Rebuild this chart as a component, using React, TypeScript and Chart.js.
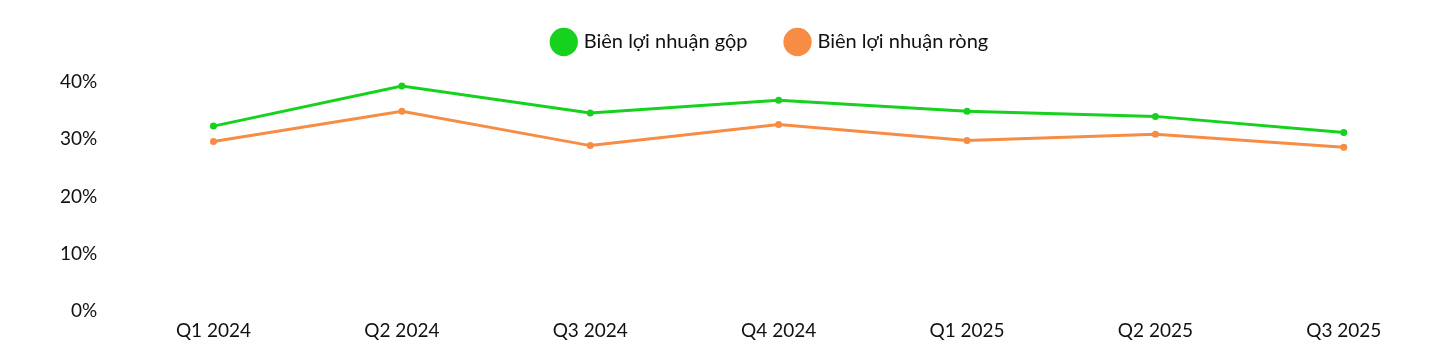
import React, { useEffect, useRef } from "react";
import { Chart, registerables } from "chart.js";

Chart.register(...registerables);

const categories = ["Q1 2024", "Q2 2024", "Q3 2024", "Q4 2024", "Q1 2025", "Q2 2025", "Q3 2025"];
const grossMargin = [32.3, 39.3, 34.6, 36.8, 34.9, 34.0, 31.2];
const netMargin = [29.6, 34.9, 28.9, 32.6, 29.8, 30.9, 28.6];
const seriesNames = ["Biên lợi nhuận gộp", "Biên lợi nhuận ròng"];
const yTicks = [0, 10, 20, 30, 40];

const GREEN = "#17d11f";
const ORANGE = "#f78c45";
const FONT = "Lato, 'Open Sans', sans-serif";

const legendShift = {
  id: "legendShift",
  afterLayout(chart: any) {
    const lg = chart.legend;
    if (!lg) return;
    const dx = 29;
    const dy = -20;
    lg.left += dx;
    lg.right += dx;
    lg.top += dy;
    lg.bottom += dy;
  },
};

export default function App() {
  const ref = useRef<HTMLCanvasElement | null>(null);
  useEffect(() => {
    if (!ref.current) return;
    const chart = new Chart(ref.current, {
      type: "line",
      data: {
        labels: categories,
        datasets: [
          {
            label: seriesNames[0],
            data: grossMargin,
            borderColor: GREEN,
            backgroundColor: GREEN,
            borderWidth: 3,
            pointRadius: 3.5,
            pointBackgroundColor: GREEN,
            pointBorderWidth: 0,
            tension: 0,
          },
          {
            label: seriesNames[1],
            data: netMargin,
            borderColor: ORANGE,
            backgroundColor: ORANGE,
            borderWidth: 3,
            pointRadius: 3.5,
            pointBackgroundColor: ORANGE,
            pointBorderWidth: 0,
            tension: 0,
          },
        ],
      },
      plugins: [legendShift],
      options: {
        animation: false,
        responsive: true,
        maintainAspectRatio: false,
        layout: { padding: { top: 4, right: 10, left: 38, bottom: 0 } },
        plugins: {
          legend: {
            position: "top",
            labels: {
              usePointStyle: true,
              pointStyle: "circle",
              boxWidth: 20,
              boxHeight: 20,
              padding: 40,
              color: "#111",
              font: { family: FONT, size: 20 },
            },
          },
          tooltip: { enabled: false },
        },
        scales: {
          x: {
            offset: true,
            grid: { display: false },
            border: { display: false },
            ticks: { color: "#111", font: { family: FONT, size: 19 }, padding: 0 },
          },
          y: {
            min: 0,
            max: 40,
            afterBuildTicks: (axis: any) => {
              axis.ticks = yTicks.map((v) => ({ value: v }));
            },
            grid: { display: false },
            border: { display: false },
            ticks: {
              color: "#111",
              font: { family: FONT, size: 19 },
              padding: 14,
              callback: (v: any) => v + "%",
            },
          },
        },
      },
    });
    return () => chart.destroy();
  }, []);
  return (
    <div style={{ width: 1440, height: 334, position: "relative" }}>
      <canvas ref={ref} />
    </div>
  );
}
